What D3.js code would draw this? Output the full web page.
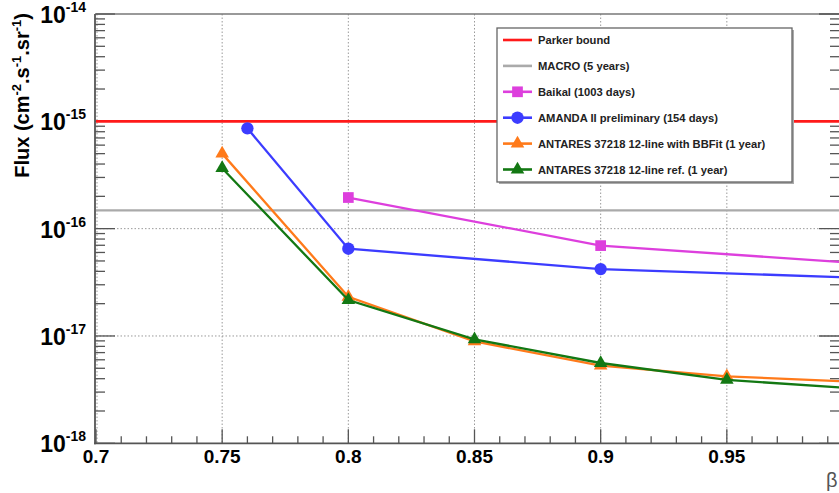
<!DOCTYPE html>
<html>
<head>
<meta charset="utf-8">
<script src="https://cdn.jsdelivr.net/npm/d3@7"></script>
<style>
  html, body { margin: 0; padding: 0; background: #fff; }
  svg { display: block; font-family: "Liberation Sans", Arial, Helvetica, sans-serif; }
</style>
</head>
<body>
<svg id="chart" width="839" height="493"></svg>
<script>
// limits (flux in cm^-2 s^-1 sr^-1 vs beta)
const parkerBound = 1e-15
const macroLimit = 1.48e-16

const baikalBeta = [0.8, 0.9, 1.0]
const baikalFlux = [1.95e-16, 6.95e-17, 4.8e-17]

const amandaBeta = [0.76, 0.8, 0.9, 1.0]
const amandaFlux = [8.6e-16, 6.5e-17, 4.2e-17, 3.5e-17]

const antaresBeta = [0.75, 0.8, 0.85, 0.9, 0.95, 1.0]
const antaresBBFitFlux = [5.0e-16, 2.32e-17, 8.9e-18, 5.3e-18, 4.2e-18, 3.75e-18]
const antaresRefFlux = [3.66e-16, 2.16e-17, 9.3e-18, 5.6e-18, 3.9e-18, 3.25e-18]

// the "1" label at beta = 1 falls outside the cropped picture
const xTickValues = [0.7, 0.75, 0.8, 0.85, 0.9, 0.95, 1.0]
const xTickLabels = ['0.7', '0.75', '0.8', '0.85', '0.9', '0.95']
const yDecades = [-18, -17, -16, -15, -14]

const legendLabels = [
  'Parker bound',
  'MACRO (5 years)',
  'Baikal (1003 days)',
  'AMANDA II preliminary (154 days)',
  'ANTARES 37218 12-line with BBFit (1 year)',
  'ANTARES 37218 12-line ref. (1 year)',
]

const svg = d3.select('#chart')

const x = d3.scaleLinear().domain([0.7, 1.0]).range([96, 853])
const y = d3.scaleLog().domain([1e-18, 1e-14]).range([443.3, 14])
const [x0, x1] = x.range()
const [yB, yT] = y.range()

// grid (dotted)
const grid = svg.append('g').attr('stroke', '#9a9a9a').attr('stroke-width', 1).attr('stroke-dasharray', '1.5,2')
grid.selectAll('.gx')
  .data(xTickValues.filter(v => v > 0.7 && v < 1))
  .enter().append('line')
  .attr('x1', d => x(d)).attr('x2', d => x(d))
  .attr('y1', yT).attr('y2', yB)
grid.append('line').attr('x1', x(0.7) + 1).attr('x2', x(0.7) + 1).attr('y1', yT).attr('y2', yB)
grid.selectAll('.gy')
  .data(yDecades.filter(d => d > -18 && d < -14))
  .enter().append('line')
  .attr('x1', x0).attr('x2', x1)
  .attr('y1', d => y(Math.pow(10, d))).attr('y2', d => y(Math.pow(10, d)))

// frame
const frame = svg.append('g').attr('fill', 'none')
frame.append('line').attr('x1', x0).attr('x2', x1).attr('y1', yT).attr('y2', yT).attr('stroke', '#777').attr('stroke-width', 1.5)
frame.append('line').attr('x1', x1).attr('x2', x1).attr('y1', yT).attr('y2', yB).attr('stroke', '#555').attr('stroke-width', 1.5)
frame.append('line').attr('x1', x0 - 1).attr('x2', x0 - 1).attr('y1', yT).attr('y2', yB + 1).attr('stroke', '#555').attr('stroke-width', 1.8)
frame.append('line').attr('x1', x0 - 2).attr('x2', x1).attr('y1', yB).attr('y2', yB).attr('stroke', '#555').attr('stroke-width', 1.8)

// y ticks, left and right
const minorY = []
yDecades.slice(0, -1).forEach(d => {
  for (let k = 2; k <= 9; k++) minorY.push(k * Math.pow(10, d))
})
const ticks = svg.append('g').attr('stroke', '#555').attr('stroke-width', 1.3)
ticks.selectAll('.ymin').data(minorY).enter().append('line')
  .attr('x1', x0 - 1).attr('x2', x0 + 9)
  .attr('y1', d => y(d)).attr('y2', d => y(d))
ticks.selectAll('.ymaj').data(yDecades).enter().append('line')
  .attr('x1', x0 - 1).attr('x2', x0 + 19)
  .attr('y1', d => y(Math.pow(10, d))).attr('y2', d => y(Math.pow(10, d)))
ticks.selectAll('.ymin2').data(minorY).enter().append('line')
  .attr('x1', x1 - 23).attr('x2', x1)
  .attr('y1', d => y(d)).attr('y2', d => y(d))
ticks.selectAll('.ymaj2').data(yDecades).enter().append('line')
  .attr('x1', x1 - 34).attr('x2', x1)
  .attr('y1', d => y(Math.pow(10, d))).attr('y2', d => y(Math.pow(10, d)))

// x ticks
const minorX = d3.range(71, 100).map(v => v / 100).filter(v => Math.round(v * 100) % 5 !== 0)
ticks.selectAll('.xmin').data(minorX).enter().append('line')
  .attr('x1', d => x(d)).attr('x2', d => x(d))
  .attr('y1', yB).attr('y2', yB - 7)
ticks.selectAll('.xmaj').data(xTickValues).enter().append('line')
  .attr('x1', d => x(d)).attr('x2', d => x(d))
  .attr('y1', yB).attr('y2', yB - 14)

// tick labels
svg.append('g').selectAll('text').data(xTickLabels).enter().append('text')
  .attr('x', d => x(+d)).attr('y', 463)
  .attr('text-anchor', 'middle')
  .style('font-size', '19px').style('font-weight', 'bold')
  .text(d => d)

const yLab = svg.append('g').selectAll('g').data(yDecades).enter().append('text')
  .attr('x', 86).attr('y', d => y(Math.pow(10, d)) + 9)
  .attr('text-anchor', 'end')
  .style('font-weight', 'bold')
yLab.append('tspan').style('font-size', '23px').text('10')
yLab.append('tspan').attr('dy', -11).style('font-size', '14px').text(d => String(d))

// axis titles
const yTitle = svg.append('text')
  .attr('transform', 'translate(29,13) rotate(-90)')
  .attr('text-anchor', 'end')
  .style('font-size', '20px').style('font-weight', 'bold')
yTitle.append('tspan').text('Flux (cm')
yTitle.append('tspan').attr('dy', -8).style('font-size', '13px').text('-2')
yTitle.append('tspan').attr('dy', 8).text('.s')
yTitle.append('tspan').attr('dy', -8).style('font-size', '13px').text('-1')
yTitle.append('tspan').attr('dy', 8).text('.sr')
yTitle.append('tspan').attr('dy', -8).style('font-size', '13px').text('-1')
yTitle.append('tspan').attr('dy', 8).text(')')

svg.append('text').attr('x', 826).attr('y', 487)
  .style('font-size', '20px').style('fill', '#555')
  .text('β')

// horizontal limits
svg.append('line').attr('x1', x0).attr('x2', x1)
  .attr('y1', y(macroLimit)).attr('y2', y(macroLimit))
  .attr('stroke', '#aaaaaa').attr('stroke-width', 2.2)
svg.append('line').attr('x1', x0).attr('x2', x1)
  .attr('y1', y(parkerBound)).attr('y2', y(parkerBound))
  .attr('stroke', '#ff1a1a').attr('stroke-width', 2.6)

// series
const series = [
  { beta: baikalBeta, flux: baikalFlux, color: '#dd3fdd', marker: d3.symbolSquare, size: 115 },
  { beta: amandaBeta, flux: amandaFlux, color: '#3c3cff', marker: d3.symbolCircle, size: 120 },
  { beta: antaresBeta, flux: antaresBBFitFlux, color: '#ff7a1a', marker: d3.symbolTriangle, size: 80 },
  { beta: antaresBeta, flux: antaresRefFlux, color: '#137813', marker: d3.symbolTriangle, size: 80 },
]

const line = d3.line().x(d => x(d[0])).y(d => y(d[1]))

series.forEach(s => {
  const pts = s.beta.map((b, i) => [b, s.flux[i]])
  const g = svg.append('g')
  g.append('path')
    .attr('d', line(pts))
    .attr('fill', 'none')
    .attr('stroke', s.color)
    .attr('stroke-width', 2.3)
  g.selectAll('path.m').data(pts).enter().append('path')
    .attr('class', 'm')
    .attr('transform', d => `translate(${x(d[0])},${y(d[1])})`)
    .attr('d', d3.symbol().type(s.marker).size(s.size))
    .attr('fill', s.color)
})

// legend
const lg = svg.append('g')
lg.append('rect').attr('x', 499).attr('y', 30).attr('width', 295).attr('height', 154).attr('fill', '#aaa')
lg.append('rect').attr('x', 497).attr('y', 28).attr('width', 295).attr('height', 154)
  .attr('fill', '#fff').attr('stroke', '#666').attr('stroke-width', 1.3)

const legendStyle = [
  { color: '#ff1a1a', marker: null },
  { color: '#aaaaaa', marker: null },
  { color: '#dd3fdd', marker: d3.symbolSquare, size: 115 },
  { color: '#3c3cff', marker: d3.symbolCircle, size: 120 },
  { color: '#ff7a1a', marker: d3.symbolTriangle, size: 80 },
  { color: '#137813', marker: d3.symbolTriangle, size: 80 },
]
const styleOf = d => legendStyle[legendLabels.indexOf(d)]
const rowY = d3.scalePoint().domain(legendLabels).range([40, 169.5])
const rows = lg.selectAll('.row').data(legendLabels).enter().append('g')
  .attr('transform', d => `translate(0,${rowY(d)})`)
rows.append('line').attr('x1', 503).attr('x2', 532).attr('y1', 0).attr('y2', 0)
  .attr('stroke', d => styleOf(d).color).attr('stroke-width', 2.6)
rows.filter(d => styleOf(d).marker)
  .append('path')
  .attr('transform', 'translate(517.5,0)')
  .attr('d', d => d3.symbol().type(styleOf(d).marker).size(styleOf(d).size)())
  .attr('fill', d => styleOf(d).color)
rows.append('text').attr('x', 538).attr('y', 4)
  .style('font-size', '11.2px').style('font-weight', 'bold').style('fill', '#222')
  .text(d => d)
</script>
</body>
</html>
